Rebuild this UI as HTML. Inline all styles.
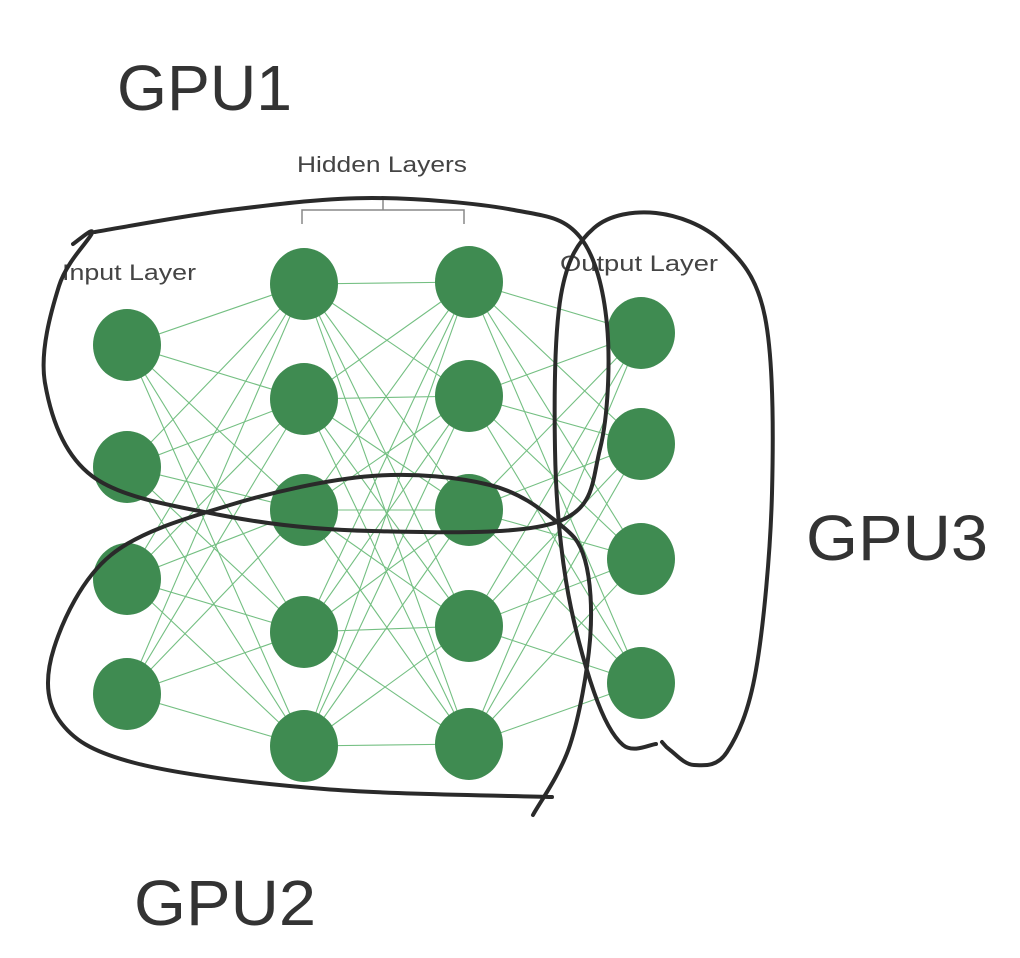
<!DOCTYPE html>
<html><head><meta charset="utf-8"><style>
html,body{margin:0;padding:0;background:#fff;}
svg{display:block}
</style></head><body>
<svg id="s" width="1020" height="958" viewBox="0 0 1020 958" xmlns="http://www.w3.org/2000/svg">
<g id="lines" stroke="#74bf82" stroke-width="1.1" fill="none"></g>
<g id="nodes" fill="#3f8b51"></g>
<g font-family="Liberation Sans, sans-serif" fill="#444" font-size="22">
<text x="297" y="172" textLength="170" lengthAdjust="spacingAndGlyphs">Hidden Layers</text>
<text x="62" y="280" textLength="134" lengthAdjust="spacingAndGlyphs">Input Layer</text>
<text x="560" y="271" textLength="158" lengthAdjust="spacingAndGlyphs">Output Layer</text>
</g>
<path d="M302,224 V210 H464 V224 M383,210 V198" stroke="#888" stroke-width="1.5" fill="none"/>
<g id="loops" stroke="#2a2a2a" stroke-width="4" fill="none" stroke-linecap="round" stroke-linejoin="round"></g>
<g font-family="Liberation Sans, sans-serif" fill="#333" font-size="64">
<text x="117" y="110" textLength="175" lengthAdjust="spacingAndGlyphs">GPU1</text>
<text x="134" y="925" textLength="182" lengthAdjust="spacingAndGlyphs">GPU2</text>
<text x="806" y="560" textLength="182" lengthAdjust="spacingAndGlyphs">GPU3</text>
</g>
</svg>
<script>
var L=[[127,[345,467,579,694]],[304,[284,399,510,632,746]],[469,[282,396,510,626,744]],[641,[333,444,559,683]]];
var lg=document.getElementById('lines'),ng=document.getElementById('nodes');
var h='';
for(var i=0;i<3;i++){var a=L[i],b=L[i+1];a[1].forEach(function(y1){b[1].forEach(function(y2){h+='<line x1="'+a[0]+'" y1="'+y1+'" x2="'+b[0]+'" y2="'+y2+'"/>';});});}
lg.innerHTML=h;h='';
L.forEach(function(l){l[1].forEach(function(y){h+='<ellipse cx="'+l[0]+'" cy="'+y+'" rx="34" ry="36"/>';});});
ng.innerHTML=h;
function cr(p){var d='M'+p[0][0]+','+p[0][1];for(var i=0;i<p.length-1;i++){var p0=p[Math.max(0,i-1)],p1=p[i],p2=p[i+1],p3=p[Math.min(p.length-1,i+2)];
d+=' C'+(p1[0]+(p2[0]-p0[0])/6).toFixed(1)+','+(p1[1]+(p2[1]-p0[1])/6).toFixed(1)+' '+(p2[0]-(p3[0]-p1[0])/6).toFixed(1)+','+(p2[1]-(p3[1]-p1[1])/6).toFixed(1)+' '+p2[0]+','+p2[1];}return d;}
var g1=[[73,244],[92,233],[59,286],[45,383],[92,476],[220,515],[372,531],[557,522],[600,449],[607,325],[580,237],[514,210],[372,198],[230,210],[95,232]];
var g2=[[533,815],[570,745],[590,640],[585,560],[557,522],[490,485],[372,476],[230,505],[111,555],[54,648],[59,720],[135,763],[324,789],[552,797]];
var g3=[[656,744],[623,745],[594,692],[566,581],[555,449],[561,295],[594,228],[656,213],[722,242],[765,317],[772,493],[756,670],[727,752],[694,765],[670,750],[662,742]];
document.getElementById('loops').innerHTML='<path d="'+cr(g1)+'"/><path d="'+cr(g2)+'"/><path d="'+cr(g3)+'"/>';
</script>
</body></html>
